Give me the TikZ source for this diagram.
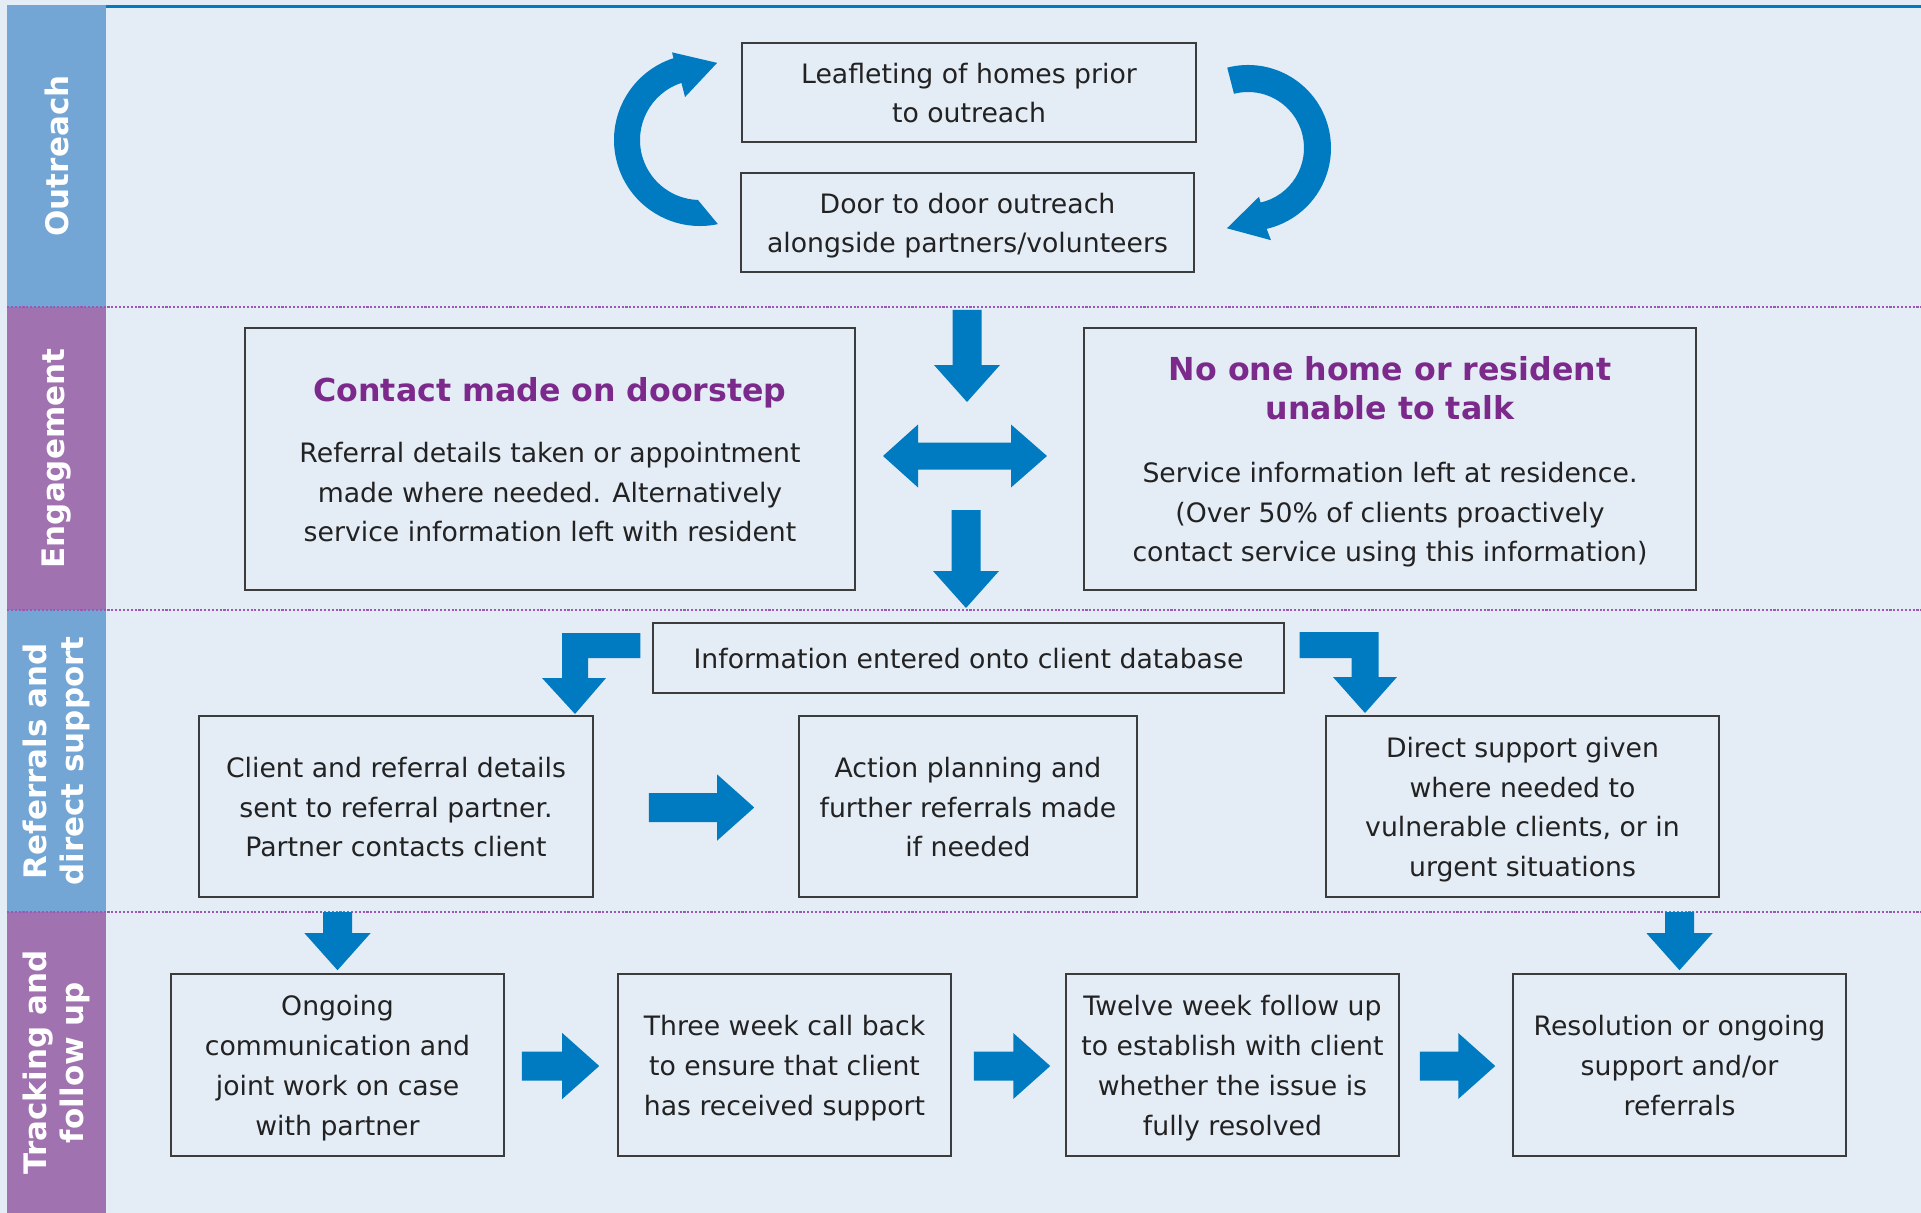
\documentclass[tikz,border=0pt]{standalone}
\usepackage{fontspec}
\setmainfont{DejaVu Sans}
\usetikzlibrary{calc}

\definecolor{bgpale}{HTML}{E4ECF6}
\definecolor{laneblue}{HTML}{73A5D5}
\definecolor{lanepurple}{HTML}{A073B0}
\definecolor{flowblue}{HTML}{007BC2}
\definecolor{headpurple}{HTML}{7B2A8C}
\definecolor{divider}{HTML}{9B59B6}
\definecolor{boxline}{HTML}{3C3C3C}
\definecolor{bodyink}{HTML}{222222}

% one drawing unit expressed in points (for node sizes)
\newcommand\pxu{*0.569054pt}
% line strut: every text line gets the same height and depth
\newcommand\lstrut{\rule[-5.4pt]{0pt}{22.75pt}}
\newcommand\bodyfont{\fontsize{15.2pt}{22.76pt}\selectfont}
\newcommand\headfont{\fontsize{18pt}{22.76pt}\selectfont\bfseries}
\newcommand\lanefont{\fontsize{17.65pt}{21pt}\selectfont\bfseries}

% block arrow pointing down: #1 top of shaft, #2 tip
\newcommand\blkdown[2]{%
  \fill[blk] ($(#2 |- #1)+(-14.5,0)$) -- ($(#2)+(-14.5,-37)$) -- ($(#2)+(-33,-37)$) -- (#2)
    -- ($(#2)+(33,-37)$) -- ($(#2)+(14.5,-37)$) -- ($(#2 |- #1)+(14.5,0)$) -- cycle;}
% block arrow pointing right: #1 start of shaft, #2 tip
\newcommand\blkright[2]{%
  \fill[blk] ($(#2 -| #1)+(0,-14.5)$) -- ($(#2)+(-37,-14.5)$) -- ($(#2)+(-37,-33)$) -- (#2)
    -- ($(#2)+(-37,33)$) -- ($(#2)+(-37,14.5)$) -- ($(#2 -| #1)+(0,14.5)$) -- cycle;}
% double-headed horizontal block arrow: #1 left tip, #2 right tip
\newcommand\blkboth[2]{%
  \fill[blk] (#1) -- ($(#1)+(35,-31.5)$) -- ($(#1)+(35,-13.5)$) -- ($(#2)+(-36,-13.5)$)
    -- ($(#2)+(-36,-31.5)$) -- (#2) -- ($(#2)+(-36,31.5)$) -- ($(#2)+(-36,13.5)$)
    -- ($(#1)+(35,13.5)$) -- ($(#1)+(35,31.5)$) -- cycle;}

\begin{document}
\begin{tikzpicture}[x=0.02cm, y=-0.02cm,
  blk/.style={fill=flowblue, draw=none},
  box/.style 2 args={draw=boxline, line width=0.9pt, inner sep=0pt, align=center,
    text=bodyink, font=\bodyfont, minimum width=#1\pxu, minimum height=#2\pxu},
  bodytxt/.style={inner sep=0pt, align=center, text=bodyink, font=\bodyfont},
  headtxt/.style={inner sep=0pt, align=center, text=headpurple, font=\headfont},
  lanelabel/.style={inner sep=0pt, align=center, text=white, font=\lanefont, rotate=90},
  lanerule/.style={divider, line width=0.75pt, dash pattern=on 1.2pt off 1pt}]

\useasboundingbox (0,0) rectangle (1921,1213);
\fill[bgpale] (0,0) rectangle (1921,1213);

% lane tabs on the left
\fill[laneblue]   (7,5)   rectangle (106,307);
\fill[lanepurple] (7,307) rectangle (106,610);
\fill[laneblue]   (7,610) rectangle (106,912);
\fill[lanepurple] (7,912) rectangle (106,1213);

% top rule and lane dividers
\draw[flowblue, line width=1.4pt] (106,6.5) -- (1921,6.5);
\draw[lanerule] (7,307) -- (1921,307);
\draw[lanerule] (7,610) -- (1921,610);
\draw[lanerule] (7,912) -- (1921,912);

% lane labels
\node[lanelabel] (lane1) at (56.5,156)    {Outreach};
\node[lanelabel] (lane2) at (56.5,458.5)  {Engagement};
\node[lanelabel] (lane3) at (56.5,761)    {Referrals and\\direct support};
\node[lanelabel] (lane4) at (56.5,1062.5) {Tracking and\\follow up};

% Outreach
\node[box={454}{99}] (leaf) at (969,92.5)
  {Leafleting of homes prior\lstrut\\to outreach\lstrut};
\node[box={453}{99}] (door) at (967.5,222.5)
  {Door to door outreach\lstrut\\alongside partners/volunteers\lstrut};

% cycle arrows around the outreach pair
\coordinate (lc) at (700,140);
\coordinate (rc) at (1248,148);
\fill[blk] ($(lc)+(78:86)$) arc[start angle=78, end angle=252, radius=86]
  -- ($(lc)+(252.3:92)$) -- ($(lc)+(282.5:79)$) -- ($(lc)+(250.8:45.5)$)
  -- ($(lc)+(252:60)$) arc[start angle=252, end angle=92, radius=60] -- cycle;
\fill[blk] ($(rc)+(255.5:83)$) arc[start angle=255.5, end angle=437, radius=83]
  -- ($(rc)+(76:95)$) -- ($(rc)+(104.7:83)$) -- ($(rc)+(77.3:50)$)
  -- ($(rc)+(77:56)$) arc[start angle=437, end angle=255.5, radius=56] -- cycle;

% Engagement
\node[box={610}{262}] (contact) at (550,459) {};
\node[headtxt, anchor=base] (contacthead) at (550,401) {Contact made on doorstep};
\node[bodytxt] (contactbody) at (550,491.5)
  {Referral details taken or appointment\lstrut\\made where needed. Alternatively\lstrut\\service information left with resident\lstrut};

\node[box={612}{262}] (noone) at (1390,459) {};
\node[headtxt] (noonehead) at (1390,389.5)
  {No one home or resident\lstrut\\unable to talk\lstrut};
\node[bodytxt] (noonebody) at (1390,511.5)
  {Service information left at residence.\lstrut\\(Over 50\% of clients proactively\lstrut\\contact service using this information)\lstrut};

\coordinate (d1s) at (967,310);
\coordinate (d1e) at (967,402);
\coordinate (hl)  at (883,456);
\coordinate (hr)  at (1047,456);
\coordinate (d2s) at (966,510);
\coordinate (d2e) at (966,608);
\blkdown{d1s}{d1e}
\blkboth{hl}{hr}
\blkdown{d2s}{d2e}

% Referrals and direct support
\node[box={631}{70}] (info) at (968.5,658)
  {Information entered onto client database\lstrut};
\node[box={394}{181}] (client) at (396,806.5)
  {Client and referral details\lstrut\\sent to referral partner.\lstrut\\Partner contacts client\lstrut};
\node[box={338}{181}] (action) at (968,806.5)
  {Action planning and\lstrut\\further referrals made\lstrut\\if needed\lstrut};
\node[box={393}{181}] (direct) at (1522.5,806.5)
  {Direct support given\lstrut\\where needed to\lstrut\\vulnerable clients, or in\lstrut\\urgent situations\lstrut};

% elbow arrows from the database box
\coordinate (el1)  at ($(info.west)+(-12,-12.5)$);
\coordinate (el1t) at (575,714);
\fill[blk] ($(el1)+(0,-12.5)$) -- ($(el1t |- el1)+(-13,-12.5)$) -- ($(el1t)+(-13,-36)$)
  -- ($(el1t)+(-33,-36)$) -- (el1t) -- ($(el1t)+(31,-36)$) -- ($(el1t)+(13,-36)$)
  -- ($(el1t |- el1)+(13,12.5)$) -- ($(el1)+(0,12.5)$) -- cycle;
\coordinate (el2)  at ($(info.east)+(15,-13)$);
\coordinate (el2t) at (1365,713);
\fill[blk] ($(el2)+(0,-13)$) -- ($(el2t |- el2)+(13.5,-13)$) -- ($(el2t)+(13.5,-36)$)
  -- ($(el2t)+(32,-36)$) -- (el2t) -- ($(el2t)+(-32,-36)$) -- ($(el2t)+(-13.5,-36)$)
  -- ($(el2t |- el2)+(-13.5,13)$) -- ($(el2)+(0,13)$) -- cycle;

\coordinate (r1s) at ($(client.east)+(55,1)$);
\coordinate (r1e) at ($(action.west)+(-44,1)$);
\blkright{r1s}{r1e}

% Tracking and follow up
\node[box={333}{182}] (ongoing) at (337.5,1065)
  {Ongoing\lstrut\\communication and\lstrut\\joint work on case\lstrut\\with partner\lstrut};
\node[box={333}{182}] (three) at (784.5,1065)
  {Three week call back\lstrut\\to ensure that client\lstrut\\has received support\lstrut};
\node[box={333}{182}] (twelve) at (1232.5,1065)
  {Twelve week follow up\lstrut\\to establish with client\lstrut\\whether the issue is\lstrut\\fully resolved\lstrut};
\node[box={333}{182}] (resol) at (1679.5,1065)
  {Resolution or ongoing\lstrut\\support and/or\lstrut\\referrals\lstrut};

\coordinate (t1s) at (337.5,912);
\coordinate (t1e) at ($(ongoing.north)+(0,-3)$);
\coordinate (t5s) at (1679.5,912);
\coordinate (t5e) at ($(resol.north)+(0,-3)$);
\blkdown{t1s}{t1e}
\blkdown{t5s}{t5e}

\coordinate (t2s) at ($(ongoing.east)+(17,1)$);
\coordinate (t2e) at ($(three.west)+(-18,1)$);
\coordinate (t3s) at ($(three.east)+(22,1)$);
\coordinate (t3e) at ($(twelve.west)+(-15,1)$);
\coordinate (t4s) at ($(twelve.east)+(20,1)$);
\coordinate (t4e) at ($(resol.west)+(-17,1)$);
\blkright{t2s}{t2e}
\blkright{t3s}{t3e}
\blkright{t4s}{t4e}

\end{tikzpicture}
\end{document}
